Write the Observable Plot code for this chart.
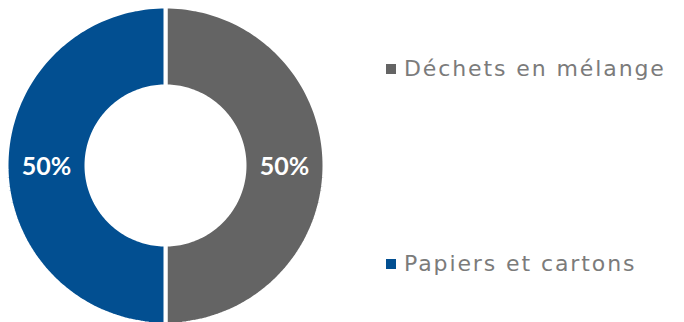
<!DOCTYPE html>
<html><head><meta charset="utf-8">
<script src="https://cdn.jsdelivr.net/npm/d3@7"></script>
<script src="https://cdn.jsdelivr.net/npm/@observablehq/plot@0.6"></script>
<style>
html,body{margin:0;padding:0;background:#fff;width:684px;height:322px;overflow:hidden;}
#wrap{position:relative;width:684px;height:322px;}
#chart{position:absolute;left:0;top:0;}
.leg{position:absolute;left:386px;font-family:"DejaVu Sans",sans-serif;font-size:22px;letter-spacing:1.9px;color:#7b7b7b;white-space:nowrap;line-height:1;}
.leg span.sw{display:inline-block;width:10px;height:10px;margin-right:8px;vertical-align:baseline;position:relative;top:-2px;}
</style></head>
<body><div id="wrap"><div id="chart"></div></div>
<script>
const categories = ["Déchets en mélange", "Papiers et cartons"];
const values = [50, 50];
const labels = ["50%", "50%"];
const colors = ["#646464", "#024f91"];

const R = 159, r = 79, half = 165;
const pie = d3.pie().sort(null).startAngle(0).endAngle(2 * Math.PI)(values);
function ringPoly(a0, a1) {
  const n = 120, pts = [];
  for (let i = 0; i <= n; i++) { const a = a0 + (a1 - a0) * i / n; pts.push([R * Math.sin(a), R * Math.cos(a)]); }
  for (let i = n; i >= 0; i--) { const a = a0 + (a1 - a0) * i / n; pts.push([r * Math.sin(a), r * Math.cos(a)]); }
  pts.push(pts[0]);
  return pts;
}
const slices = pie.map((p, i) => ({
  type: "Feature",
  properties: {cat: categories[i], label: labels[i]},
  geometry: {type: "Polygon", coordinates: [ringPoly(p.startAngle, p.endAngle)]}
}));
const labelPts = pie.map((p, i) => {
  const a = (p.startAngle + p.endAngle) / 2, m = (R + r) / 2;
  return {x: m * Math.sin(a), y: m * Math.cos(a), label: labels[i]};
});
const chart = Plot.plot({
  width: 330, height: 330, margin: 0,
  projection: {type: "reflect-y", domain: {type: "MultiPoint", coordinates: [[-half, -half], [half, half]]}},
  color: {domain: categories, range: colors},
  marks: [
    Plot.geo(slices, {fill: d => d.properties.cat, stroke: "white", strokeWidth: 4}),
    Plot.text(labelPts, {x: "x", y: "y", text: "label", fill: "white", fontSize: 25, fontWeight: "bold", fontFamily: "Lato, sans-serif", dy: 1})
  ]
});
document.getElementById("chart").appendChild(chart);
const wrap = document.getElementById("wrap");
const tops = [58, 253];
categories.forEach((c, i) => {
  const d = document.createElement("div");
  d.className = "leg"; d.style.top = tops[i] + "px";
  d.innerHTML = `<span class="sw" style="background:${colors[i]}"></span>${c}`;
  wrap.appendChild(d);
});
</script></body></html>
